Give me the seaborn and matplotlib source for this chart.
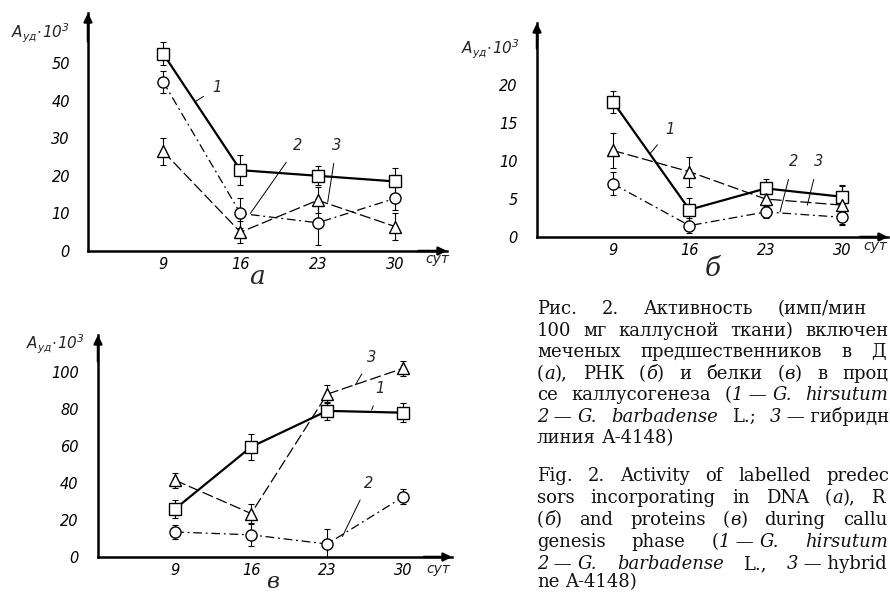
import matplotlib
matplotlib.use("Agg")
import matplotlib.pyplot as plt
from matplotlib.transforms import IdentityTransform
import seaborn as sns

# ---------------- data ----------------
DAYS = [9, 16, 23, 30]
X_TICK_LABELS = ["9", "16", "23", "30"]

# panel a (DNA)
A_S1 = [52.5, 21.5, 20.0, 18.5]
A_S1_ERR = [3.0, 4.0, 2.5, 3.5]
A_S2 = [45.0, 10.0, 7.5, 14.0]
A_S2_ERR = [3.0, 4.0, 6.0, 3.0]
A_S3 = [26.5, 5.0, 13.5, 6.5]
A_S3_ERR = [3.5, 3.0, 3.5, 3.5]
A_YTICKS = [0, 10, 20, 30, 40, 50]

# panel б (RNA)
B_S1 = [17.8, 3.6, 6.4, 5.3]
B_S1_ERR = [1.5, 1.5, 1.2, 1.5]
B_S2 = [7.0, 1.5, 3.3, 2.6]
B_S2_ERR = [1.5, 1.0, 0.8, 1.0]
B_S3 = [11.4, 8.6, 5.0, 4.2]
B_S3_ERR = [2.3, 2.0, 1.5, 2.5]
B_YTICKS = [0, 5, 10, 15, 20]

# panel в (proteins)
C_S1 = [26.0, 59.5, 79.0, 78.0]
C_S1_ERR = [5.0, 7.0, 5.0, 5.0]
C_S2 = [13.5, 12.0, 7.0, 32.5]
C_S2_ERR = [4.0, 6.0, 8.0, 4.0]
C_S3 = [41.5, 23.5, 88.0, 102.0]
C_S3_ERR = [4.0, 5.0, 5.0, 4.0]
C_YTICKS = [0, 20, 40, 60, 80, 100]

# caption text as visible in the (cropped) reference; *..* = italic, ~ = fixed space
CAPTION_RU = [
    "Рис. 2. Активность (имп/мин",
    "100 мг каллусной ткани) включен",
    "меченых предшественников в Д",
    "(*а*), РНК (*б*) и белки (*в*) в проц",
    "се каллусогенеза (*1*~—~*G.* *hirsutum*",
    "*2*~—~*G.* *barbadense* L.; *3*~—~гибридн",
    "линия А-4148)",
]
CAPTION_EN = [
    "Fig. 2. Activity of labelled predec",
    "sors incorporating in DNA (*a*), R",
    "(*б*) and proteins (*в*) during callu",
    "genesis phase (*1*~—~*G.* *hirsutum*",
    "*2*~—~*G.* *barbadense* L., *3*~—~hybrid",
    "ne A-4148)",
]

# ---------------- style ----------------
sns.set_theme(style="white")
plt.rcParams["font.family"] = ["DejaVu Sans"]
plt.rcParams["mathtext.fontset"] = "custom"
plt.rcParams["mathtext.it"] = "DejaVu Sans:italic"
plt.rcParams["mathtext.rm"] = "DejaVu Sans:italic"
plt.rcParams["mathtext.default"] = "it"

W, H = 890, 594
fig = plt.figure(figsize=(W / 100, H / 100), dpi=100)
fig.patch.set_facecolor("white")

SERIF = "DejaVu Serif"


def add_panel(left, right, y0, top):
    return fig.add_axes([left / W, (H - y0) / H, (right - left) / W, (y0 - top) / H])


def style_axes(ax, xlim, ylim, yticks, ypad):
    ax.set_xlim(*xlim)
    ax.set_ylim(*ylim)
    ax.set_facecolor("none")
    for s in ["top", "right"]:
        ax.spines[s].set_visible(False)
    for s in ["left", "bottom"]:
        ax.spines[s].set_color("black")
        ax.spines[s].set_linewidth(1.8)
    ax.set_xticks(DAYS)
    ax.set_xticklabels(X_TICK_LABELS, fontstyle="italic", fontsize=10.5)
    ax.set_yticks(yticks)
    ax.set_yticklabels([str(t) for t in yticks], fontstyle="italic", fontsize=10.5)
    ax.tick_params(axis="x", length=0, pad=4, colors="black")
    ax.tick_params(axis="y", length=0, pad=ypad, colors="black")
    ax.set_xlabel("")
    ax.set_ylabel("")
    ax.grid(False)
    ax.annotate("", xy=(0, 1.0), xytext=(0, 0.88), xycoords="axes fraction",
                arrowprops=dict(arrowstyle="-|>", color="black", lw=1.8,
                                mutation_scale=12, shrinkA=0, shrinkB=0))
    ax.annotate("", xy=(1.0, 0), xytext=(0.92, 0), xycoords="axes fraction",
                arrowprops=dict(arrowstyle="-|>", color="black", lw=1.8,
                                mutation_scale=12, shrinkA=0, shrinkB=0))


SERIES_STYLE = [
    dict(marker="s", linestyle="-", linewidth=1.6),
    dict(marker="o", linestyle=(0, (7, 3, 1.5, 3)), linewidth=0.9),
    dict(marker="^", linestyle=(0, (9, 3)), linewidth=0.9),
]


def draw_series(ax, vals, errs, st):
    ax.errorbar(DAYS, vals, yerr=errs, fmt="none", ecolor="black",
                elinewidth=0.8, capsize=2.5, capthick=0.8, zorder=2)
    sns.lineplot(x=DAYS, y=vals, ax=ax, color="black",
                 linestyle=st["linestyle"], linewidth=st["linewidth"],
                 marker=st["marker"], markersize=8, markerfacecolor="white",
                 markeredgecolor="black", markeredgewidth=1.0, zorder=3)


def leader(ax, label, xy, xytext):
    ax.annotate(label, xy=xy, xytext=xytext, textcoords="data",
                fontsize=10.5, fontstyle="italic", ha="center", va="center",
                arrowprops=dict(arrowstyle="-", lw=0.7, color="black",
                                shrinkA=5, shrinkB=0))


def px_text(x, y, s, **kw):
    return fig.text(x, H - y, s, transform=IdentityTransform(), **kw)


YLABEL = r"$A_{уд}\!\cdot\!10^{3}$"

# ---------------- panel a ----------------
axA = add_panel(88, 447, 251, 13)
style_axes(axA, (2.2, 34.7), (0, 63.3), A_YTICKS, 13)
for v, e, st in zip([A_S1, A_S2, A_S3], [A_S1_ERR, A_S2_ERR, A_S3_ERR], SERIES_STYLE):
    draw_series(axA, v, e, st)
leader(axA, "1", (11.9, 39.7), (13.9, 43.5))
leader(axA, "2", (16.9, 10.0), (21.2, 28.0))
leader(axA, "3", (23.9, 13.0), (24.7, 28.0))
px_text(437, 259, "сут", fontsize=10, fontstyle="italic", ha="center", va="center")
px_text(257, 277, "а", fontsize=19, fontstyle="italic", family=SERIF,
        ha="center", va="center")
px_text(40, 33, YLABEL, fontsize=11, ha="center", va="center")

# ---------------- panel б ----------------
axB = add_panel(537, 888, 237, 23)
style_axes(axB, (2.03, 34.2), (0, 28.2), B_YTICKS, 14)
for v, e, st in zip([B_S1, B_S2, B_S3], [B_S1_ERR, B_S2_ERR, B_S3_ERR], SERIES_STYLE):
    draw_series(axB, v, e, st)
leader(axB, "1", (12.4, 11.0), (14.2, 14.1))
leader(axB, "2", (24.3, 3.3), (25.5, 9.9))
leader(axB, "3", (26.8, 4.2), (27.8, 9.9))
px_text(875, 246, "сут", fontsize=10, fontstyle="italic", ha="center", va="center")
px_text(713, 268, "б", fontsize=19, fontstyle="italic", family=SERIF,
        ha="center", va="center")
px_text(490, 49, YLABEL, fontsize=11, ha="center", va="center")

# ---------------- panel в ----------------
axC = add_panel(98, 452, 557, 335)
style_axes(axC, (1.9, 34.5), (0, 120), C_YTICKS, 14)
for v, e, st in zip([C_S1, C_S2, C_S3], [C_S1_ERR, C_S2_ERR, C_S3_ERR], SERIES_STYLE):
    draw_series(axC, v, e, st)
leader(axC, "3", (25.6, 93.0), (27.1, 108.0))
leader(axC, "1", (27.1, 79.5), (27.9, 91.0))
leader(axC, "2", (24.4, 11.0), (26.8, 40.0))
px_text(438, 569, "сут", fontsize=10, fontstyle="italic", ha="center", va="center")
px_text(273, 582, "в", fontsize=16, fontstyle="italic", family=SERIF,
        ha="center", va="center")
px_text(55, 344, YLABEL, fontsize=11, ha="center", va="center")


# ---------------- caption (justified) ----------------
def draw_caption(lines, x0, ys, rights, fs):
    renderer = fig.canvas.get_renderer()
    p1 = px_text(0, 0, "n n", fontsize=fs, family=SERIF)
    p2 = px_text(0, 0, "nn", fontsize=fs, family=SERIF)
    space = p1.get_window_extent(renderer).width - p2.get_window_extent(renderer).width
    p1.remove()
    p2.remove()
    for line, yb, right in zip(lines, ys, rights):
        words = []
        for w in line.split(" "):
            segs = []
            for j, p in enumerate(w.split("*")):
                if p == "":
                    continue
                t = px_text(0, 0, p.replace("~", " "), fontsize=fs, family=SERIF,
                            fontstyle="italic" if j % 2 else "normal",
                            ha="left", va="baseline", color="#111111")
                segs.append(t)
            words.append(segs)
        widths = [[s.get_window_extent(renderer).width for s in segs] for segs in words]
        total = sum(sum(ws) for ws in widths)
        if len(words) > 1 and right is not None:
            gap = (right - x0 - total) / (len(words) - 1)
        else:
            gap = space
        x = x0
        for segs, ws in zip(words, widths):
            for s, w in zip(segs, ws):
                s.set_position((x, H - yb))
                x += w
            x += gap


draw_caption(CAPTION_RU, 537, [314, 336, 357, 379, 400, 422, 443],
             [867, 888, 886, 888, 888, 889, None], 13)
draw_caption(CAPTION_EN, 537, [481, 503, 525, 547, 569, 587],
             [889, 885, 887, 888, 887, None], 13)

fig.savefig("out.png", dpi=100, facecolor="white")
